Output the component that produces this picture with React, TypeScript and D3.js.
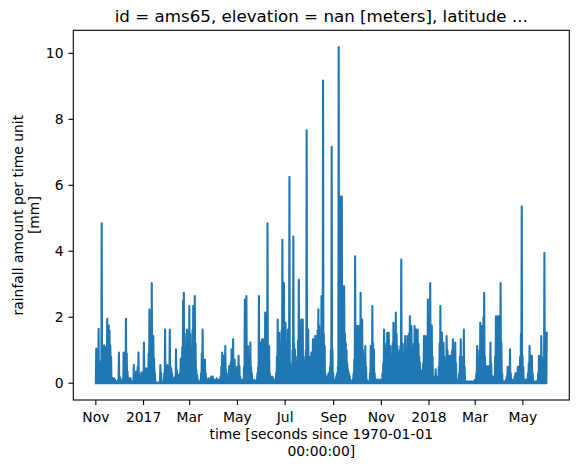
import * as d3 from "d3";

// Daily peak rainfall (mm), one small array per month
const nov2016 = [1.05, 1.0, 0.6, 1.65, 0.4, 0.65, 0.3, 4.85, 1.1, 1.1, 1.15, 1.1, 1.05, 1.1, 1.95, 1.1, 1.75, 1.6, 1.15, 0.8, 0.1, 0.15, 0.05, 0.15, 0.1, 0.05, 0.05, 0, 0.1, 0.93];
const dec2016 = [0.2, 0.15, 0.05, 0, 0.1, 0.93, 0.4, 0.5, 1.95, 0.9, 0.35, 0.1, 0.15, 0.1, 0.15, 0.05, 0, 0.05, 0.55, 0.2, 0.1, 0.35, 0.15, 0.5, 0.93, 0.3, 0.15, 0.05, 0.33, 0.2, 0.3];
const jan2017 = [1.23, 0.4, 0.3, 0.45, 0.2, 0.35, 0.9, 2.23, 1.2, 1.0, 3.04, 1.3, 1.43, 0.75, 0.3, 0.05, 0, 0, 0.02, 0, 0.05, 0.55, 0.3, 0.05, 0.02, 0.05, 0.3, 1.63, 0.5, 0.2, 0.55];
const feb2017 = [0.3, 0.4, 1.63, 0.5, 0.45, 0.3, 0.1, 0.15, 0.1, 0.2, 1.03, 0.4, 0.2, 0.25, 0.1, 0.3, 0.75, 0.4, 1.1, 2.5, 2.74, 1.5, 1.0, 0.5, 1.63, 0.8, 1.0, 2.34];
const mar2017 = [1.5, 1.03, 0.8, 1.6, 2.34, 1.5, 2.64, 1.2, 0.4, 0.25, 0.1, 0.05, 0.05, 0.05, 0.3, 0.9, 1.63, 0.6, 0.2, 0.72, 0.3, 0.15, 0.1, 0.1, 0.15, 0.1, 0.1, 0.2, 0.1, 0.2, 0.1];
const apr2017 = [0.1, 0.05, 0.1, 0.15, 0.1, 0.05, 0.1, 0.1, 0.2, 0.5, 0.93, 0.5, 0.83, 0.6, 1.13, 0.4, 0.1, 0.1, 0.3, 0.52, 0.3, 0.62, 1.03, 0.8, 1.33, 0.6, 0.72, 0.3, 0.22, 0.5];
const may2017 = [0.2, 0.83, 0.52, 0.2, 0.1, 0.1, 0.05, 0.1, 0.5, 2.54, 1.5, 2.64, 0.6, 1.13, 0.2, 0.3, 1.23, 0.5, 0.3, 0.05, 0.05, 0.1, 0.05, 0.05, 0.1, 0.3, 0.5, 2.64, 0.8, 1.23, 0.4];
const jun2017 = [1.33, 0.5, 1.33, 1.0, 2.14, 1.2, 0.5, 4.85, 0.8, 1.13, 0.3, 0.2, 0.1, 0.2, 0.15, 0.1, 0.05, 0.1, 0.3, 0.8, 1.93, 0.6, 1.53, 1.2, 0.6, 1.6, 4.35, 1.2, 3.04, 1.4];
const jul2017 = [1.83, 0.4, 0.2, 1.63, 0.8, 6.26, 0.6, 0.2, 0.3, 1.0, 4.45, 1.2, 1.03, 0.5, 0.4, 0.8, 1.3, 3.14, 1.5, 1.0, 1.93, 1.2, 1.93, 0.8, 0.62, 0.5, 1.0, 7.67, 1.5, 1.63, 0.8];
const aug2017 = [0.62, 0.8, 0.93, 0.83, 1.33, 1.0, 1.33, 1.43, 1.43, 1.0, 1.6, 2.24, 1.73, 1.33, 1.4, 2.64, 1.5, 9.18, 1.5, 1.13, 0.3, 0, 0.05, 0.22, 0.3, 0.33, 0.5, 1.0, 7.17, 1.03, 0.3];
const sep2017 = [0.1, 0.1, 0.05, 0.22, 0.3, 0.5, 10.19, 5.66, 5.0, 5.66, 5.66, 2.94, 2.5, 2.94, 1.5, 1.23, 1.0, 0.6, 0.4, 0.3, 0.22, 0.1, 0.05, 0.05, 0.1, 0.3, 0.72, 3.85, 1.2, 1.73];
const oct2017 = [1.73, 1.2, 1.73, 1.5, 2.74, 1.5, 1.93, 1.0, 0.5, 0.6, 1.13, 0.5, 0.1, 0.05, 0.05, 0.05, 0.3, 1.13, 0.8, 2.34, 1.2, 1.03, 0.3, 0.1, 0.1, 0.1, 0.1, 0.1, 0.1, 0.1, 0.1];
const nov2017 = [0.1, 0.3, 0.62, 1.63, 1.0, 0.8, 1.2, 1.53, 1.2, 1.53, 1.0, 1.13, 0.8, 0.72, 1.2, 1.83, 1.5, 1.3, 2.14, 1.5, 1.13, 0.8, 0.93, 1.0, 1.13, 3.75, 1.2, 0.8, 0.93, 1.2];
const dec2017 = [1.43, 1.0, 0.8, 1.43, 1.2, 1.5, 2.03, 1.5, 1.73, 1.0, 0.83, 1.2, 1.73, 1.3, 1.63, 1.2, 1.63, 1.2, 0.8, 0.62, 0.4, 0.2, 0.3, 0.6, 1.43, 1.0, 1.43, 1.35, 1.0, 2.54, 1.5];
const jan2018 = [2.0, 3.04, 1.5, 1.75, 0.8, 0.1, 0.1, 0.2, 0.42, 0.2, 0.05, 0.05, 0.5, 1.2, 2.34, 1.0, 1.53, 1.0, 1.23, 0.8, 0.72, 0.6, 1.43, 1.0, 0.6, 0.83, 0.5, 0.83, 0.6, 1.0, 1.33];
const feb2018 = [1.0, 0.8, 1.23, 0.6, 0.1, 0.1, 0.1, 0.3, 0.8, 1.33, 0.6, 0.42, 0.8, 1.63, 0.5, 0.05, 0.05, 0.05, 0.05, 0.05, 0.05, 0.05, 0.05, 0.05, 0.05, 0.05, 0.05, 0.1];
const mar2018 = [0.1, 0.3, 1.13, 0.6, 0.5, 1.0, 1.83, 1.5, 1.73, 1.2, 2.0, 2.74, 0.8, 0.52, 0.5, 0.3, 0.52, 0.5, 0.3, 1.23, 0.6, 0.2, 0.2, 0.1, 0.2, 0.8, 2.03, 2.0, 2.03, 2.0, 2.03];
const apr2018 = [1.5, 3.04, 1.23, 0.3, 0.05, 0.05, 0.05, 0.05, 0.1, 0.2, 0.5, 0.3, 0.5, 1.03, 0.3, 0.1, 0.1, 0.1, 0.1, 0.2, 0.3, 0.2, 0.3, 0.5, 0.3, 0.52, 0.8, 1.5, 5.36, 0.83];
const may2018 = [0.5, 0.1, 0.1, 0.1, 0.1, 0.1, 0.3, 0.6, 1.13, 0.5, 0.83, 0.83, 0.3, 0.05, 0.05, 0.05, 0.05, 0.05, 0.05, 0.3, 0.83, 0.5, 0.8, 1.43, 0.62, 0.3, 0.8, 3.95, 1.0, 0.5, 1.53];

// rainfall during the dry hours between wet spells (the line touches 0 every day)
const DRY_VALUE = 0;

const START = new Date(2016, 10, 1);

const yTicks = [0, 2, 4, 6, 8, 10];
const xTickDates = ["2016-11-01", "2017-01-01", "2017-03-01", "2017-05-01", "2017-07-01", "2017-09-01", "2017-11-01", "2018-01-01", "2018-03-01", "2018-05-01"];
const xTickLabels = ["Nov", "2017", "Mar", "May", "Jul", "Sep", "Nov", "2018", "Mar", "May"];

const TITLE = "id = ams65, elevation = nan [meters], latitude ...";
const Y_LABEL = ["rainfall amount per time unit", "[mm]"];
const X_LABEL = ["time [seconds since 1970-01-01", "00:00:00]"];

const W = 579;
const H = 469;
const AX = { left: 73.3, right: 569.3, top: 30.3, bottom: 400 };
const FONT = "'DejaVu Sans', sans-serif";
const BLUE = "#1f77b4";

type Point = { date: Date; value: number };

function parseDay(s: string): Date {
  const [y, m, d] = s.split("-").map(Number);
  return new Date(y, m - 1, d);
}

export default function App() {
  const values = [
    ...nov2016, ...dec2016, ...jan2017, ...feb2017, ...mar2017, ...apr2017,
    ...may2017, ...jun2017, ...jul2017, ...aug2017, ...sep2017, ...oct2017,
    ...nov2017, ...dec2017, ...jan2018, ...feb2018, ...mar2018, ...apr2018, ...may2018,
  ];

  // each day: a dry reading at midnight, then the day's peak at noon
  const data: Point[] = values.flatMap((v, i) => {
    const day = d3.timeDay.offset(START, i);
    return [
      { date: day, value: DRY_VALUE },
      { date: d3.timeHour.offset(day, 12), value: v },
    ];
  });

  // matplotlib-style 5% margins on both axes
  const [t0, t1] = d3.extent(data, (d) => d.date) as [Date, Date];
  const tPad = (t1.getTime() - t0.getTime()) * 0.05;
  const x = d3
    .scaleTime()
    .domain([new Date(t0.getTime() - tPad), new Date(t1.getTime() + tPad)])
    .range([AX.left, AX.right]);

  const [v0, v1] = d3.extent(data, (d) => d.value) as [number, number];
  const vPad = (v1 - v0) * 0.05;
  const y = d3.scaleLinear().domain([v0 - vPad, v1 + vPad]).range([AX.bottom, AX.top]);

  const line = d3
    .line<Point>()
    .x((d) => x(d.date))
    .y((d) => y(d.value));

  const cx = (AX.left + AX.right) / 2;
  const cy = (AX.top + AX.bottom) / 2;

  return (
    <svg width={W} height={H} style={{ position: "absolute", left: 0, top: 0, background: "#fff" }} fontFamily={FONT}>
      <rect width={W} height={H} fill="#fff" />

      <path d={line(data) ?? ""} fill="none" stroke={BLUE} strokeWidth={2.08} strokeLinejoin="round" strokeLinecap="square" />

      {/* frame */}
      <rect
        x={AX.left}
        y={AX.top}
        width={AX.right - AX.left}
        height={AX.bottom - AX.top}
        fill="none"
        stroke="#000"
        strokeWidth={1.1}
      />

      {/* y axis */}
      {yTicks.map((t) => (
        <g key={`y${t}`}>
          <line x1={AX.left - 4.9} x2={AX.left} y1={y(t)} y2={y(t)} stroke="#000" strokeWidth={1.1} />
          <text x={AX.left - 9.8} y={y(t)} dy="0.36em" textAnchor="end" fontSize={13.9} fill="#000">
            {t}
          </text>
        </g>
      ))}

      {/* x axis */}
      {xTickDates.map((s, i) => {
        const px = x(parseDay(s));
        return (
          <g key={s}>
            <line x1={px} x2={px} y1={AX.bottom} y2={AX.bottom + 4.9} stroke="#000" strokeWidth={1.1} />
            <text x={px} y={421.5} textAnchor="middle" fontSize={13.9} fill="#000">
              {xTickLabels[i]}
            </text>
          </g>
        );
      })}

      {/* labels */}
      <text x={cx} y={21.7} textAnchor="middle" fontSize={16.7} fill="#000">
        {TITLE}
      </text>
      {X_LABEL.map((l, i) => (
        <text key={l} x={cx} y={439 + i * 17.4} textAnchor="middle" fontSize={13.9} fill="#000">
          {l}
        </text>
      ))}
      {Y_LABEL.map((l, i) => (
        <text
          key={l}
          transform={`translate(${22.5 + i * 16.7},${cy}) rotate(-90)`}
          textAnchor="middle"
          fontSize={13.9}
          fill="#000"
        >
          {l}
        </text>
      ))}
    </svg>
  );
}
